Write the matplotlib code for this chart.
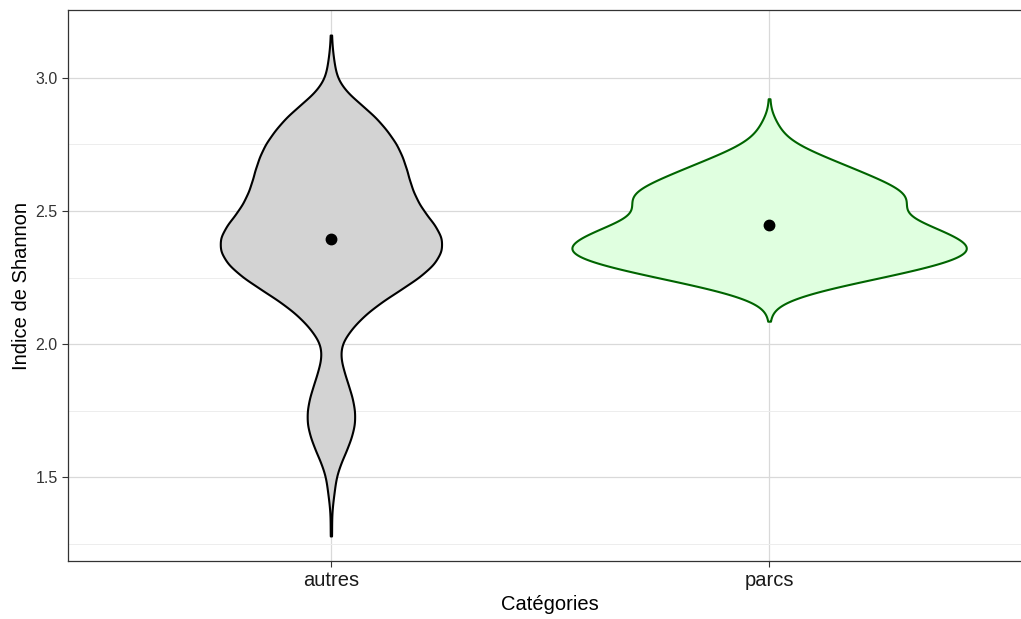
import numpy as np
import matplotlib
matplotlib.use("Agg")
import matplotlib.pyplot as plt

plt.rcParams['font.family'] = ['Liberation Sans', 'DejaVu Sans']

CATEGORIES = ['autres', 'parcs']

# Shannon index per site, binned: value -> number of sites
AUTRES_VALUES = [1.28, 1.34, 1.40, 1.45, 1.50, 1.55, 1.60, 1.65, 1.70, 1.75,
                 1.80, 1.85, 1.90, 1.95, 2.00, 2.05, 2.10, 2.15, 2.20, 2.25,
                 2.30, 2.35, 2.40, 2.45, 2.50, 2.55, 2.60, 2.65, 2.70, 2.75,
                 2.80, 2.85, 2.90, 2.95, 3.00, 3.05, 3.10, 3.16]
AUTRES_COUNTS = [1, 1, 2, 4, 6, 11, 18, 24, 28, 28,
                 25, 20, 15, 11, 12, 22, 36, 55, 79, 103,
                 121, 130, 130, 121, 108, 99, 93, 89, 84, 77,
                 66, 53, 35, 17, 7, 4, 2, 1]

PARCS_VALUES = [2.086, 2.120, 2.150, 2.175, 2.200, 2.225, 2.250, 2.275,
                2.300, 2.325, 2.350, 2.375, 2.400, 2.425, 2.450, 2.475, 2.500,
                2.525, 2.550, 2.575, 2.600, 2.625, 2.650, 2.675, 2.700, 2.725,
                2.750, 2.775, 2.800, 2.825, 2.850, 2.875, 2.921]
PARCS_COUNTS = [1, 1, 5, 14, 28, 46, 65, 84,
                100, 113, 120, 117, 110, 101, 91, 80, 76,
                80, 82, 79, 71, 62, 53, 43, 34, 24,
                16, 10, 7, 5, 3, 1, 1]

FILLS = ['#d3d3d3', '#e0ffe0']
EDGES = ['black', '#006400']
BANDWIDTH = 0.032


def Density(values, counts, grid, bw):
    values = np.asarray(values, dtype=float)
    counts = np.asarray(counts, dtype=float)
    z = (grid[:, None] - values[None, :]) / bw
    k = np.exp(-0.5 * z ** 2) @ counts
    return k / (counts.sum() * bw * np.sqrt(2 * np.pi))


groups = [(AUTRES_VALUES, AUTRES_COUNTS), (PARCS_VALUES, PARCS_COUNTS)]
curves = []
for values, counts in groups:
    grid = np.linspace(min(values), max(values), 512)
    curves.append((grid, Density(values, counts, grid, BANDWIDTH)))

# area scaling: widest violin gets 0.9
dmax = max(d.max() for _, d in curves)

fig = plt.figure(figsize=(10.21, 6.19), dpi=100)
ax = fig.add_axes([68 / 1021, 58 / 619, (1032 - 68) / 1021, (561 - 10) / 619])

for i, (grid, dens) in enumerate(curves):
    pos = i + 1
    hw = 0.45 * dens / dmax
    ax.fill_betweenx(grid, pos - hw, pos + hw, facecolor=FILLS[i],
                     edgecolor=EDGES[i], linewidth=1.5, zorder=2)
    values, counts = groups[i]
    ax.plot(pos, np.average(values, weights=counts), 'o', color='black',
            markersize=7.5, zorder=3)

lo = min(min(v) for v, _ in groups)
hi = max(max(v) for v, _ in groups)
pad = 0.05 * (hi - lo)
ax.set_ylim(lo - pad, hi + pad)
ax.set_xlim(0.4, 2.6)

ax.set_xticks([1, 2])
ax.set_xticklabels(CATEGORIES)
ax.set_yticks([1.5, 2.0, 2.5, 3.0])
ax.set_yticks([1.25, 1.75, 2.25, 2.75], minor=True)
ax.set_axisbelow(True)
ax.grid(which='major', color='#d9d9d9', linewidth=0.9)
ax.grid(which='minor', axis='y', color='#ededed', linewidth=0.7)

ax.tick_params(which='major', length=4.5, width=0.8, color='#333333')
ax.tick_params(which='minor', length=0)
ax.tick_params(axis='y', labelsize=11.5, labelcolor='#333333', pad=3)
ax.tick_params(axis='x', labelsize=14.5, labelcolor='#1a1a1a', pad=3)
for s in ax.spines.values():
    s.set_color('#333333')
    s.set_linewidth(0.9)

ax.set_xlabel('Catégories', fontsize=14.5, labelpad=3)
ax.set_ylabel('Indice de Shannon', fontsize=14.5, labelpad=3)

fig.savefig('out.png', dpi=100)
